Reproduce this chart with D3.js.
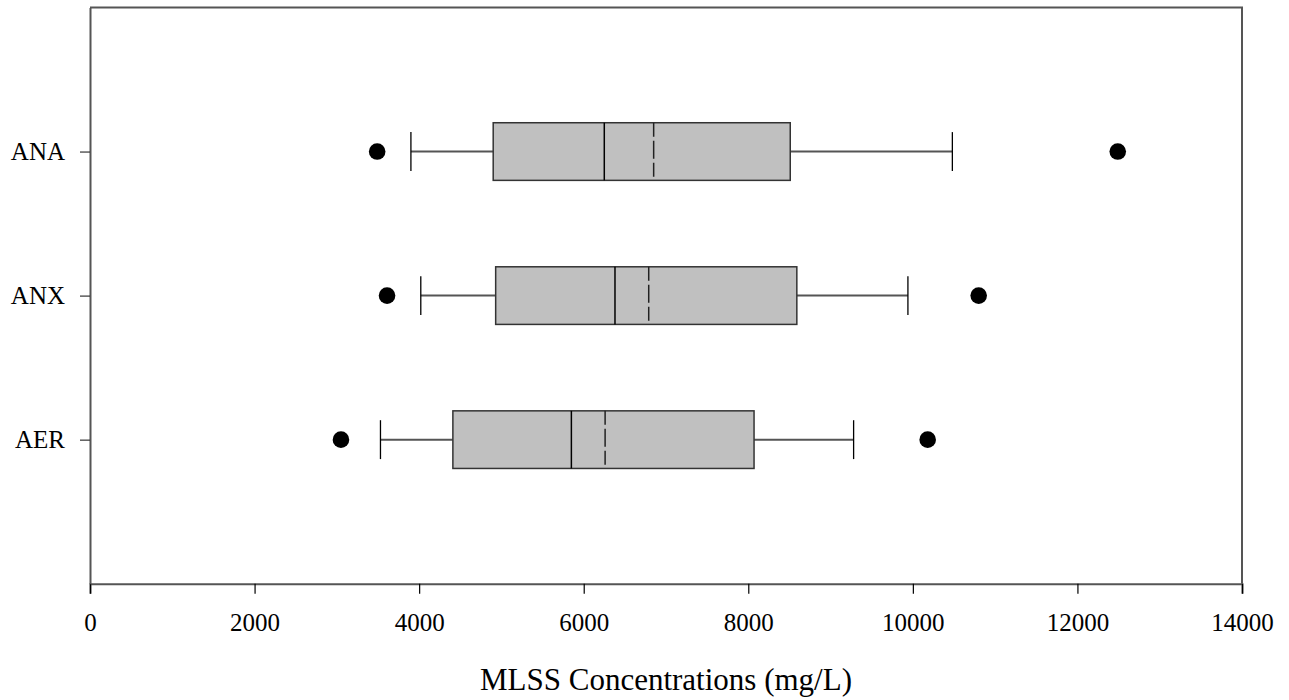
<!DOCTYPE html>
<html>
<head>
<meta charset="utf-8">
<script src="https://cdn.jsdelivr.net/npm/d3@7"></script>
<style>
  html, body { margin: 0; padding: 0; background: #fff; }
  svg { display: block; }
  text { font-family: "Liberation Serif", "Times New Roman", serif; fill: #000; }
</style>
</head>
<body>
<svg id="chart" width="1289" height="700"></svg>
<script>
// Reactor zones, bottom to top
const categories = ["AER", "ANX", "ANA"];
// Box-plot statistics of MLSS (mg/L)
const whiskerLow  = [3530, 4020, 3900];
const q1          = [4410, 4930, 4900];
const median      = [5850, 6380, 6250];
const mean        = [6260, 6790, 6850];
const q3          = [8070, 8590, 8510];
const whiskerHigh = [9280, 9940, 10480];
// Points beyond the whiskers
const outliers = [
  [3050, 10180],
  [3610, 10800],
  [3490, 12490]
];
const xTicks = [0, 2000, 4000, 6000, 8000, 10000, 12000, 14000];
const xTitle = "MLSS Concentrations (mg/L)";

const svg = d3.select("#chart");
const margin = { left: 90, top: 7.5, right: 47, bottom: 116.3 };
const W = 1289, H = 700;
const x0 = margin.left, x1 = W - margin.right;
const y0 = margin.top, y1 = H - margin.bottom;

const x = d3.scaleLinear().domain([0, 14000]).range([x0, x1]);
const y = d3.scaleLinear().domain([0, categories.length + 1]).range([y1, y0]);
const step = (y1 - y0) / (categories.length + 1);
const boxH = step * 0.4;
const capH = step * 0.27;

const stats = categories.map((c, i) => ({
  name: c, pos: i + 1,
  lo: whiskerLow[i], q1: q1[i], med: median[i], mean: mean[i], q3: q3[i], hi: whiskerHigh[i],
  out: outliers[i]
}));

const g = svg.append("g");

// Whiskers and caps
stats.forEach(d => {
  const cy = y(d.pos);
  g.append("line").attr("x1", x(d.lo)).attr("x2", x(d.q1)).attr("y1", cy).attr("y2", cy)
    .attr("stroke", "#555").attr("stroke-width", 2);
  g.append("line").attr("x1", x(d.q3)).attr("x2", x(d.hi)).attr("y1", cy).attr("y2", cy)
    .attr("stroke", "#555").attr("stroke-width", 2);
  [d.lo, d.hi].forEach(v => {
    g.append("line").attr("x1", x(v)).attr("x2", x(v))
      .attr("y1", cy - capH / 2).attr("y2", cy + capH / 2)
      .attr("stroke", "#000").attr("stroke-width", 1.3);
  });
});

// Boxes
g.selectAll("rect.box").data(stats).join("rect")
  .attr("class", "box")
  .attr("x", d => x(d.q1))
  .attr("width", d => x(d.q3) - x(d.q1))
  .attr("y", d => y(d.pos) - boxH / 2)
  .attr("height", boxH)
  .attr("fill", "#c0c0c0")
  .attr("stroke", "#333")
  .attr("stroke-width", 1.5);

// Median lines
g.selectAll("line.med").data(stats).join("line")
  .attr("class", "med")
  .attr("x1", d => x(d.med)).attr("x2", d => x(d.med))
  .attr("y1", d => y(d.pos) - boxH / 2).attr("y2", d => y(d.pos) + boxH / 2)
  .attr("stroke", "#000").attr("stroke-width", 1.5);

// Mean lines (dashed)
g.selectAll("line.mean").data(stats).join("line")
  .attr("class", "mean")
  .attr("x1", d => x(d.mean)).attr("x2", d => x(d.mean))
  .attr("y1", d => y(d.pos) - boxH / 2).attr("y2", d => y(d.pos) + boxH / 2)
  .attr("stroke", "#222").attr("stroke-width", 1.5)
  .attr("stroke-dasharray", "14,4,18,4");

// Outliers
stats.forEach(d => {
  g.selectAll(null).data(d.out).join("circle")
    .attr("cx", v => x(v)).attr("cy", y(d.pos)).attr("r", 8.3)
    .attr("fill", "#000");
});

// X axis
const xAxis = svg.append("g").attr("transform", `translate(0,${y1})`)
  .call(d3.axisBottom(x).tickValues(xTicks).tickFormat(d3.format("d")).tickSize(10).tickPadding(20));
xAxis.select(".domain").attr("stroke", "#555").attr("stroke-width", 2);
xAxis.selectAll(".tick line").attr("stroke", "#000").attr("stroke-width", 1.2);
xAxis.selectAll(".tick text").attr("font-size", 25).attr("font-family", "Liberation Serif, serif")
  .attr("fill", "#000");

// Y axis
const yAxis = svg.append("g").attr("transform", `translate(${x0},0)`)
  .call(d3.axisLeft(y).tickValues(stats.map(d => d.pos))
    .tickFormat(p => categories[p - 1]).tickSize(10).tickPadding(15).tickSizeOuter(0));
yAxis.select(".domain").attr("stroke", "#555").attr("stroke-width", 2);
yAxis.selectAll(".tick line").attr("stroke", "#333").attr("stroke-width", 1.2);
yAxis.selectAll(".tick text").attr("font-size", 25).attr("font-family", "Liberation Serif, serif")
  .attr("fill", "#000");

// Top and right frame
svg.append("path")
  .attr("d", `M${x0},${y0}H${x1}V${y1}`)
  .attr("fill", "none").attr("stroke", "#555").attr("stroke-width", 2);

// X axis title
svg.append("text")
  .attr("x", (x0 + x1) / 2).attr("y", 690)
  .attr("text-anchor", "middle").attr("font-size", 31)
  .text(xTitle);
</script>
</body>
</html>
